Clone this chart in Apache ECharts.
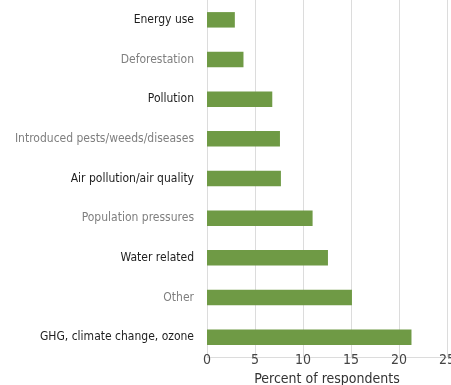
<!DOCTYPE html>
<html>
<head>
<meta charset="utf-8">
<script src="https://cdn.jsdelivr.net/npm/echarts@6/dist/echarts.min.js"></script>
<style>
  html, body { margin: 0; padding: 0; background: #fff; }
  #chart { width: 451px; height: 385px; }
</style>
</head>
<body>
<div id="chart"></div>
<script>
// Environmental issues named by respondents (percent), top to bottom
const categories = [
  'Energy use',
  'Deforestation',
  'Pollution',
  'Introduced pests/weeds/diseases',
  'Air pollution/air quality',
  'Population pressures',
  'Water related',
  'Other',
  'GHG, climate change, ozone'
];
const percents = [2.9, 3.8, 6.8, 7.6, 7.7, 11.0, 12.6, 15.1, 21.3];
const xTicks = [0, 5, 10, 15, 20, 25];
const labelTones = ['dark', 'light', 'dark', 'light', 'dark', 'light', 'dark', 'light', 'dark'];

const FONT = '"Liberation Sans Narrow", "DejaVu Sans Condensed", "Liberation Sans", sans-serif';

const chart = echarts.init(document.getElementById('chart'), null, { renderer: 'canvas' });

chart.setOption({
  animation: false,
  grid: { left: 207, right: 4, top: 0, bottom: 28, containLabel: false, outerBoundsMode: 'none' },
  xAxis: {
    type: 'value',
    min: xTicks[0],
    max: xTicks[xTicks.length - 1],
    interval: 5,
    name: 'Percent of respondents',
    nameLocation: 'middle',
    nameGap: 10,
    nameTextStyle: { fontFamily: FONT, fontSize: 14, color: '#333' },
    axisLine: { show: true, lineStyle: { color: '#dcdcdc', width: 1 } },
    axisTick: { show: false },
    axisLabel: {
      margin: -4,
      fontFamily: FONT,
      fontSize: 14,
      color: '#444',
      showMaxLabel: true
    },
    splitLine: { show: true, lineStyle: { color: '#dcdcdc', width: 1 } }
  },
  yAxis: {
    type: 'category',
    inverse: true,
    data: categories.map((c, i) => ({ value: c, textStyle: { color: labelTones[i] === 'dark' ? '#1e1e1e' : '#7f7f7f' } })),
    axisLine: { show: false },
    axisTick: { show: false },
    axisLabel: {
      margin: 13,
      fontFamily: FONT,
      fontSize: 12
    }
  },
  series: [{
    type: 'bar',
    data: percents,
    barWidth: '39%',
    itemStyle: { color: '#6f9a45' }
  }]
});
</script>
</body>
</html>
